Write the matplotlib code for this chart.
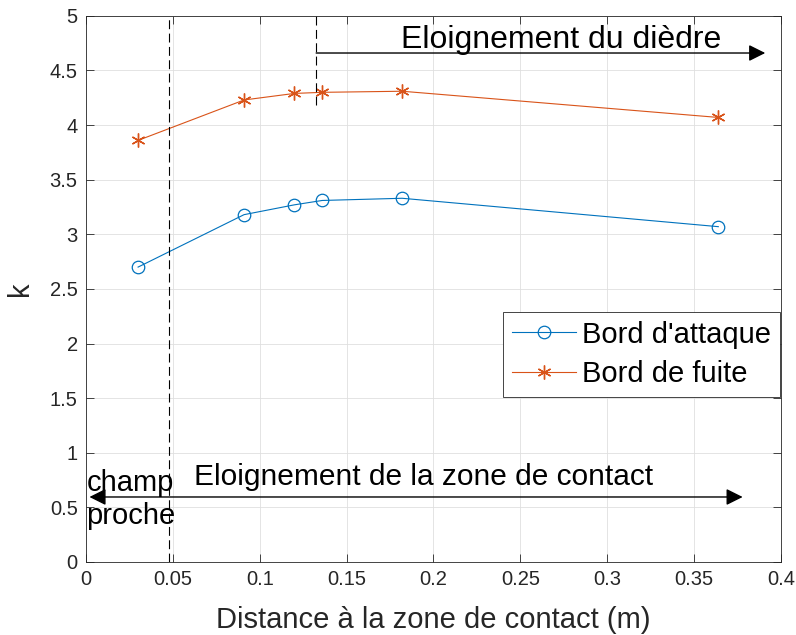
import numpy as np
import matplotlib
matplotlib.use('Agg')
import matplotlib.pyplot as plt

plt.rcParams['font.family'] = ['Liberation Sans', 'DejaVu Sans']

# Distance a la zone de contact (m)
distance = [0.030, 0.091, 0.120, 0.136, 0.182, 0.364]
k_attaque = [2.70, 3.18, 3.27, 3.31, 3.33, 3.07]
k_fuite = [3.86, 4.23, 4.29, 4.30, 4.31, 4.07]

x_champ = 0.048   # limite champ proche
x_diedre = 0.1325 # debut eloignement du diedre

xticks = [0, 0.05, 0.1, 0.15, 0.2, 0.25, 0.3, 0.35, 0.4]
xticklabels = ['0', '0.05', '0.1', '0.15', '0.2', '0.25', '0.3', '0.35', '0.4']
yticks = [0, 0.5, 1, 1.5, 2, 2.5, 3, 3.5, 4, 4.5, 5]
yticklabels = ['0', '0.5', '1', '1.5', '2', '2.5', '3', '3.5', '4', '4.5', '5']

fig = plt.figure(figsize=(7.96, 6.35), dpi=100)
ax = fig.add_axes([0.108, 0.115, 0.873, 0.860])

ax.plot(distance, k_attaque, color='#0072BD', lw=0.8, marker='o', ms=9,
        mfc='none', mec='#0072BD', mew=0.9, label="Bord d'attaque")
ax.plot(distance, k_fuite, color='#D95319', lw=0.8, marker=(6, 2, 0), ms=10,
        mfc='none', mec='#D95319', mew=1.0, label='Bord de fuite')

# lignes verticales pointillees
ax.plot([x_champ, x_champ], [0, 5], color='k', ls=(0, (8, 4)), lw=0.8)
ax.plot([x_diedre, x_diedre], [4.18, 5], color='k', ls=(0, (8, 4)), lw=0.8)

# fleches
ax.annotate('', xy=(0.391, 4.66), xytext=(x_diedre, 4.66),
            arrowprops=dict(arrowstyle='-|>', color='k', lw=1.0,
                            mutation_scale=25, shrinkA=0, shrinkB=0))
ax.annotate('', xy=(0.378, 0.595), xytext=(0.002, 0.595),
            arrowprops=dict(arrowstyle='<|-|>', color='k', lw=1.0,
                            mutation_scale=25, shrinkA=0, shrinkB=0))

ax.text(0.2735, 4.78, 'Eloignement du dièdre', fontsize=23,
        ha='center', va='center')
ax.text(0.1945, 0.78, 'Eloignement de la zone de contact', fontsize=21.5,
        ha='center', va='center')
ax.text(0.0002, 0.57, 'champ\nproche', fontsize=21, ha='left', va='center',
        linespacing=1.25)

ax.set_xlim(0, 0.4)
ax.set_ylim(0, 5)
ax.set_xticks(xticks)
ax.set_xticklabels(xticklabels)
ax.set_yticks(yticks)
ax.set_yticklabels(yticklabels)
ax.tick_params(direction='in', top=True, right=True, labelsize=14.5,
               length=6, width=0.6, colors='#262626', pad=6)
ax.grid(True, color='#dfdfdf', lw=0.6)
for s in ax.spines.values():
    s.set_color('#262626')
    s.set_linewidth(0.6)

ax.set_xlabel('Distance à la zone de contact (m)', fontsize=21,
              color='#262626', labelpad=12)
ax.set_ylabel('k', fontsize=21, color='#262626', labelpad=11)

leg = ax.legend(loc='upper right', bbox_to_anchor=(0.9986, 0.458),
                fontsize=21, fancybox=False, framealpha=1,
                edgecolor='#262626', handlelength=2.2, borderpad=0.3,
                handletextpad=0.2, labelspacing=0.4, borderaxespad=0)
leg.get_frame().set_linewidth(0.6)

fig.savefig('out.png', dpi=100)
